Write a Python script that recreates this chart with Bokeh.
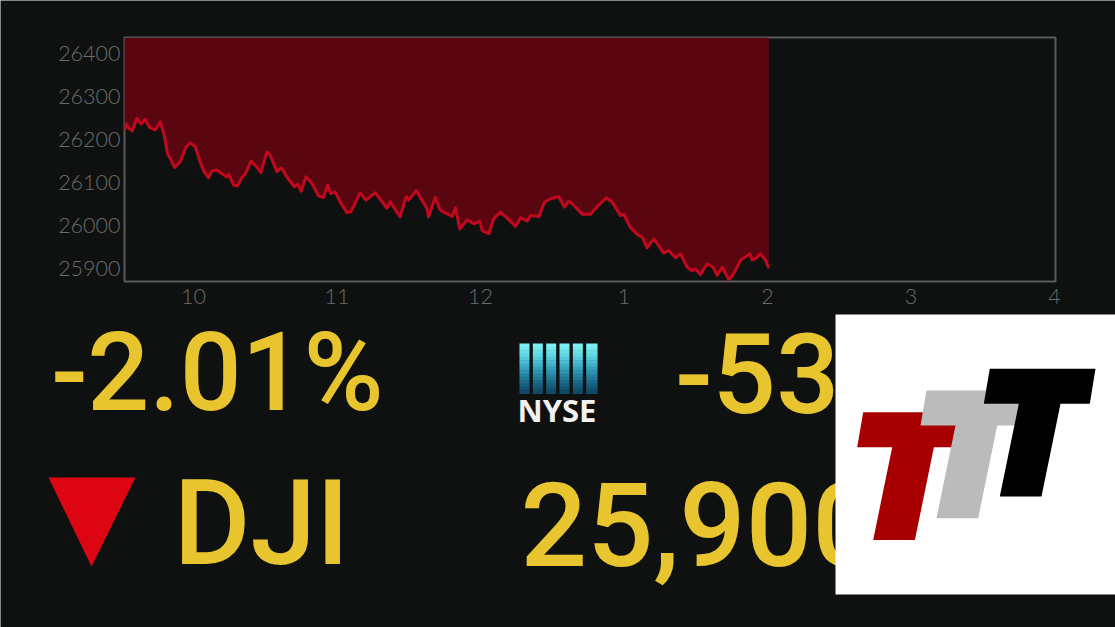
from bokeh.plotting import figure
from bokeh.embed import file_html
from bokeh.resources import INLINE
from bokeh.core.properties import value
from bokeh.models import FixedTicker, BasicTickFormatter

hours = [9.517,9.531,9.549,9.573,9.605,9.635,9.663,9.693,9.733,9.768,9.796,9.819,9.837,9.868,9.907,9.949,9.977,
10.012,10.046,10.074,10.105,10.128,10.163,10.204,10.232,10.246,10.279,10.307,10.337,10.360,10.402,10.441,10.469,
10.511,10.534,10.581,10.613,10.650,10.702,10.725,10.750,10.783,10.825,10.871,10.906,10.934,10.957,10.987,
11.022,11.069,11.096,11.161,11.203,11.266,11.324,11.347,11.370,11.440,11.482,11.498,11.552,11.626,11.638,11.684,11.719,
11.744,11.803,11.826,11.856,11.907,11.954,11.995,12.012,12.058,12.093,12.139,12.190,12.244,12.279,12.325,12.348,12.407,
12.446,12.488,12.546,12.585,12.616,12.662,12.708,12.767,12.813,12.878,12.918,12.976,12.999,
13.045,13.092,13.127,13.161,13.208,13.278,13.312,13.359,13.394,13.440,13.475,13.498,13.533,13.580,13.621,13.649,13.684,
13.731,13.765,13.812,13.877,13.893,13.916,13.951,13.986,14.009]
prices = [26218,26236,26226,26220,26249,26236,26247,26228,26222,26241,26210,26167,26156,26135,26148,26183,26192,
26183,26148,26125,26111,26127,26129,26119,26113,26119,26094,26092,26112,26119,26150,26136,26123,
26171,26164,26125,26134,26113,26090,26096,26080,26113,26098,26069,26065,26094,26074,26078,
26055,26030,26032,26076,26059,26076,26051,26040,26055,26020,26067,26059,26081,26040,26020,26065,26036,
26031,26021,26041,25992,26013,26004,26010,25988,25981,26016,26031,26016,25998,26018,26010,26023,26021,
26054,26062,26067,26043,26057,26043,26026,26026,26044,26064,26054,26023,26026,
25995,25979,25973,25948,25969,25936,25942,25925,25934,25903,25895,25899,25886,25911,25903,25884,25903,
25874,25888,25919,25934,25920,25923,25934,25919,25901]
y_ticks = [25900,26000,26100,26200,26300,26400]
x_ticks = [10,11,12,13,14,15,16]
x_labels = ["10","11","12","1","2","3","4"]

BG = "#0e1110"; GRID = "#5a5c5a"; TICK = "#6a6c6a"; GOLD = "#e8c52e"
X0, X1 = 9.519, 16.007
Y0, Y1 = 25869.8, 26437.0

# backdrop: the page in pixel coordinates, with headline figures and marks
bg = figure(width=1115, height=627, x_range=(0, 1115), y_range=(627, 0), output_backend="svg",
            toolbar_location=None, background_fill_color=BG, border_fill_color=BG,
            x_axis_type=None, y_axis_type=None, min_border=0)
bg.styles = {"position": "absolute", "left": "0px", "top": "0px"}
bg.grid.visible = False
bg.outline_line_color = None


def txt(s, x, y, size, color=GOLD, font="Roboto Medium", style="normal"):
    bg.text(x=[x], y=[y], text=[s], text_color=color, text_font=value(font), text_font_size=size,
            text_font_style=style, text_baseline="alphabetic", text_align="left")


txt("-2.01%", 51, 372, "109px")
txt("-53", 675, 372, "112px")
txt("DJI", 173, 523, "118px")
txt("25,900", 520, 523, "117px")
bg.patch([48, 135, 91], [477, 477, 566], fill_color="#dd0512", line_alpha=0)

# NYSE mark
shades = ["#7eeef2", "#74e8ef", "#6ae0ea", "#5fd6e4", "#54cadc", "#49bdd3", "#3fafc9", "#36a1bd",
          "#2e93b1", "#2785a4", "#217897", "#1c6b8a", "#175f7e", "#135472", "#104a67"]
for k, c in enumerate(shades):
    bg.quad(left=[519], right=[597], top=[343 + k * 50 / 15], bottom=[343 + (k + 1) * 50 / 15 + 0.5],
            fill_color=c, line_alpha=0)
for n in range(1, 6):
    bg.quad(left=[519 + n * 13.33 - 3.33], right=[519 + n * 13.33], top=[342], bottom=[394],
            fill_color=BG, line_alpha=0)
txt("NYSE", 517, 409, "31px", "#f2f2f2", "Open Sans", "bold")

# logo panel
bg.quad(left=[835], right=[1115], top=[314], bottom=[594], fill_color="#ffffff", line_alpha=0)
tx = [989.3, 1095, 1089.3, 1060, 1041, 999.3, 1018.3, 983.3]
ty = [368.3, 368.3, 403.3, 403.3, 496, 496, 403.3, 403.3]
for k, c in ((2, "#a80000"), (1, "#bbbbbb"), (0, "#000000")):
    bg.patch([v - k * 63.3 for v in tx], [v + k * 21.7 for v in ty], fill_color=c, line_alpha=0)

# the price chart, transparent, on top of the backdrop
p = figure(width=1115, height=320, x_range=(X0, X1), y_range=(Y0, Y1), output_backend="svg",
           toolbar_location=None, background_fill_color=None, border_fill_color=None,
           min_border_left=124, min_border_right=60, min_border_top=37, min_border_bottom=39)
p.styles = {"position": "absolute", "left": "0px", "top": "0px"}
p.grid.visible = False
p.outline_line_color = GRID
p.outline_line_width = 2

p.varea(x=hours, y1=prices, y2=[Y1] * len(hours), fill_color="#5a0610")
p.line(x=hours, y=prices, line_color="#c2081f", line_width=3, line_join="round")

for ax in (p.xaxis[0], p.yaxis[0]):
    ax.major_tick_line_color = None
    ax.minor_tick_line_color = None
    ax.axis_line_color = None
    ax.major_label_text_color = TICK
    ax.major_label_text_font = "Lato Light"
    ax.major_label_text_font_size = "21.5px"
p.xaxis[0].ticker = FixedTicker(ticks=x_ticks)
p.xaxis[0].major_label_overrides = dict(zip(x_ticks, x_labels))
p.xaxis[0].major_label_standoff = 1
p.yaxis[0].ticker = FixedTicker(ticks=y_ticks)
p.yaxis[0].formatter = BasicTickFormatter(use_scientific=False)
p.yaxis[0].major_label_standoff = -2
p.yaxis[0].major_label_orientation = "horizontal"

open("out.html", "w").write(file_html([bg, p], INLINE))
